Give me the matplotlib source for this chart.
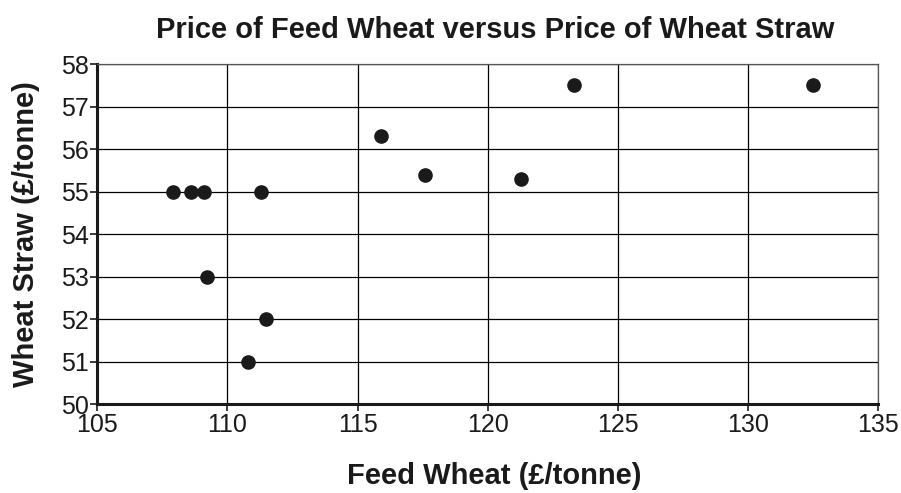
import matplotlib
matplotlib.use("Agg")
import matplotlib.pyplot as plt

# --- data ---
feed_wheat = [107.9, 108.6, 109.1, 111.3, 109.2, 111.5, 110.8, 115.9, 117.6, 121.3, 123.3, 132.5]
wheat_straw = [55.0, 55.0, 55.0, 55.0, 53.0, 52.0, 51.0, 56.3, 55.4, 55.3, 57.5, 57.5]
x_ticks = [105, 110, 115, 120, 125, 130, 135]
y_ticks = [50, 51, 52, 53, 54, 55, 56, 57, 58]

plt.rcParams['font.family'] = ['Liberation Sans', 'DejaVu Sans']

fig = plt.figure(figsize=(9.01, 4.93), dpi=100)
ax = fig.add_axes([0.108, 0.180, 0.8665, 0.690])

ax.plot(feed_wheat, wheat_straw, linestyle='none', marker='o',
        markersize=9.5, color='#1a1a1a', zorder=3)

ax.set_xlim(105, 135)
ax.set_ylim(50, 58)
ax.set_xticks(x_ticks)
ax.set_yticks(y_ticks)
ax.grid(True, color='black', linewidth=0.9)
ax.set_axisbelow(True)

for side in ['top', 'right']:
    ax.spines[side].set_linewidth(0.9)
    ax.spines[side].set_color('#555555')
for side in ['left', 'bottom']:
    ax.spines[side].set_linewidth(2.2)
    ax.spines[side].set_color('#1a1a1a')

ax.tick_params(axis='both', labelsize=18, length=5, width=1.2, colors='#1a1a1a')
ax.tick_params(axis='x', pad=1)
ax.tick_params(axis='y', pad=1)

ax.set_title("Price of Feed Wheat versus Price of Wheat Straw",
             fontsize=21, fontweight='bold', color='#1a1a1a', pad=19, x=0.509)
ax.set_xlabel("Feed Wheat (£/tonne)", fontsize=21, fontweight='bold',
              color='#1a1a1a', labelpad=18, x=0.509)
ax.set_ylabel("Wheat Straw (£/tonne)", fontsize=21, fontweight='bold',
              color='#1a1a1a', labelpad=15)

fig.savefig("out.png", dpi=100)
